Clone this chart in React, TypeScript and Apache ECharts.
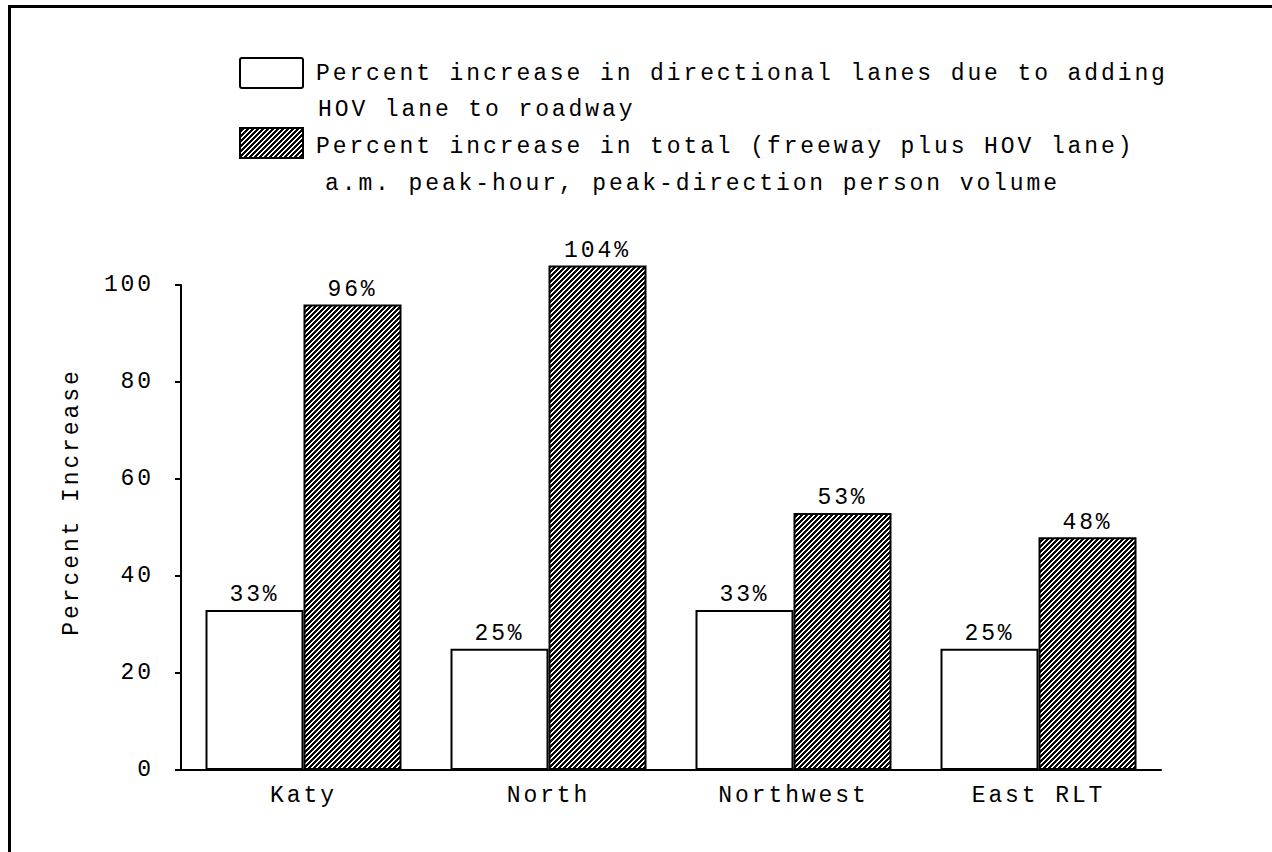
import React, { useEffect, useRef } from "react";
import * as echarts from "echarts";

const categories = ["Katy", "North", "Northwest", "East RLT"];
const laneIncrease = [33, 25, 33, 25];
const personVolumeIncrease = [96, 104, 53, 48];
const yMin = 0;
const yMax = 100;
const yStep = 20;
const legendLines1 = ["Percent increase in directional lanes due to adding", "HOV lane to roadway"];
const legendLines2 = ["Percent increase in total (freeway plus HOV lane)", "a.m. peak-hour, peak-direction person volume"];
const yAxisTitle = "Percent Increase";

const FONT_FAMILY = "'Liberation Mono', 'DejaVu Sans Mono', monospace";
const FONT_SIZE = 23;
const FONT = `${FONT_SIZE}px ${FONT_FAMILY}`;

function makeHatch(): HTMLCanvasElement {
  const n = 5;
  const c = document.createElement("canvas");
  c.width = n;
  c.height = n;
  const ctx = c.getContext("2d")!;
  const img = ctx.createImageData(n, n);
  for (let y = 0; y < n; y++) {
    for (let x = 0; x < n; x++) {
      const i = (y * n + x) * 4;
      const dark = (x + y) % n < 3;
      const v = dark ? 0 : 255;
      img.data[i] = v;
      img.data[i + 1] = v;
      img.data[i + 2] = v;
      img.data[i + 3] = 255;
    }
  }
  ctx.putImageData(img, 0, 0);
  return c;
}

export default function App() {
  const ref = useRef<HTMLDivElement>(null);

  useEffect(() => {
    if (!ref.current) return;
    const chart = echarts.init(ref.current, undefined, { renderer: "svg" });
    const hatch = makeHatch();
    const hatchFill: any = { image: hatch, repeat: "repeat", imageWidth: 5, imageHeight: 5 };

    const textEl = (text: string, x: number, y: number, extra: any = {}) => ({
      type: "text",
      x,
      y,
      silent: true,
      ...extra,
      style: {
        text,
        font: FONT,
        fill: "#000",
        align: extra.align || "left",
        verticalAlign: "middle",
        textAlign: extra.align || "left",
        textVerticalAlign: "middle",
      },
    });

    const labelOpt = {
      show: true,
      position: "top",
      distance: 3,
      formatter: "{c}%",
      color: "#000",
      fontSize: FONT_SIZE,
      fontFamily: FONT_FAMILY,
    };

    chart.setOption({
      animation: false,
      backgroundColor: "#fff",
      grid: { left: 181, right: 111, top: 285, bottom: 82, containLabel: false },
      xAxis: {
        type: "category",
        data: categories,
        axisLine: { show: true, lineStyle: { color: "#000", width: 2 } },
        axisTick: { show: false },
        axisLabel: { color: "#000", fontSize: FONT_SIZE, fontFamily: FONT_FAMILY, margin: 14 },
        splitLine: { show: false },
      },
      yAxis: {
        type: "value",
        min: yMin,
        max: yMax,
        interval: yStep,
        axisLine: { show: true, lineStyle: { color: "#000", width: 2 } },
        axisTick: { show: true, length: 6, lineStyle: { color: "#000", width: 2 } },
        axisLabel: { color: "#000", fontSize: FONT_SIZE, fontFamily: FONT_FAMILY, margin: 27 },
        splitLine: { show: false },
      },
      series: [
        {
          type: "bar",
          name: legendLines1.join(" "),
          data: laneIncrease,
          barWidth: 98,
          barGap: "0%",
          clip: false,
          itemStyle: { color: "#fff", borderColor: "#000", borderWidth: 2 },
          label: labelOpt,
          emphasis: { disabled: true },
        },
        {
          type: "bar",
          name: legendLines2.join(" "),
          data: personVolumeIncrease,
          barWidth: 98,
          barGap: "0%",
          clip: false,
          itemStyle: { color: hatchFill, borderColor: "#000", borderWidth: 2 },
          label: labelOpt,
          emphasis: { disabled: true },
        },
      ],
      graphic: [
        { type: "line", silent: true, shape: { x1: 8, y1: 6.5, x2: 1272, y2: 6.5 }, style: { stroke: "#000", lineWidth: 3 } },
        { type: "line", silent: true, shape: { x1: 9.5, y1: 5, x2: 9.5, y2: 852 }, style: { stroke: "#000", lineWidth: 3 } },
        { type: "rect", silent: true, shape: { x: 240, y: 58, width: 63, height: 30, r: 2 }, style: { fill: "#fff", stroke: "#000", lineWidth: 2 } },
        { type: "rect", silent: true, shape: { x: 240, y: 128, width: 63, height: 30 }, style: { fill: hatchFill, stroke: "#000", lineWidth: 2 } },
        textEl(legendLines1[0], 316, 74),
        textEl(legendLines1[1], 318, 110),
        textEl(legendLines2[0], 316, 147),
        textEl(legendLines2[1], 325, 184),
        textEl(yAxisTitle, 72, 502, { rotation: Math.PI / 2, align: "center" }),
      ],
    });

    return () => chart.dispose();
  }, []);

  return (
    <>
      <style>{`.hwy-chart text { letter-spacing: 2.9px; }`}</style>
      <div
        ref={ref}
        className="hwy-chart"
        style={{ position: "fixed", left: 0, top: 0, width: 1272, height: 852 }}
      />
    </>
  );
}
